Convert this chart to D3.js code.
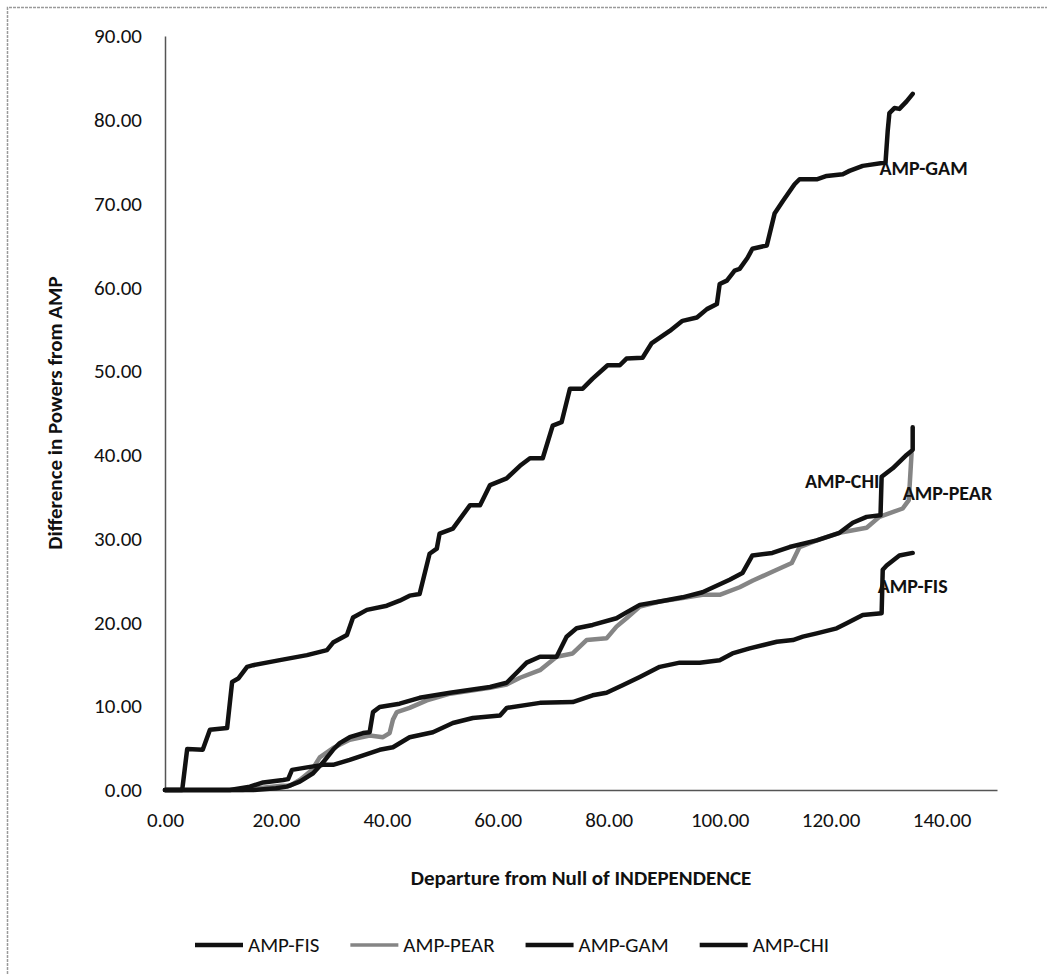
<!DOCTYPE html>
<html>
<head>
<meta charset="utf-8">
<script src="https://cdn.jsdelivr.net/npm/d3@7"></script>
<style>
  body { margin: 0; background: #fff; }
  svg text { font-family: Carlito, Lato, "Open Sans", sans-serif; fill: #111; }
</style>
</head>
<body>
<div id="chart"></div>
<script>
// Power differences vs departure from independence

// series names (legend order)
let seriesNames = ["AMP-FIS", "AMP-PEAR", "AMP-GAM", "AMP-CHI"];

// each series is a list of [departure, difference] points
let fisPts = [[0,0],[11.7,0],[15.3,0.4],[17.7,0.9],[21.3,1.2],[22.2,1.3],[22.9,2.4],[25.6,2.7],
  [28.5,3.0],[30.3,3.0],[33.3,3.6],[38.7,4.8],[41.1,5.1],[44.1,6.3],[48.3,6.9],[51.9,8.0],
  [55.5,8.6],[60.4,8.9],[61.6,9.8],[67.6,10.4],[73.5,10.5],[77.1,11.3],[79.6,11.6],[82.5,12.5],
  [85.6,13.5],[89.2,14.7],[92.8,15.2],[96.4,15.2],[100,15.5],[102.3,16.3],[105.4,16.9],
  [110.3,17.7],[113.2,17.9],[115,18.3],[117.5,18.7],[121.1,19.3],[122.9,19.9],[125.8,20.9],
  [129.2,21.1],[129.4,26.3],[130.1,26.8],[132.4,28.0],[134.8,28.3]];

let pearPts = [[0,0],[14,0],[18,0.3],[21,0.5],[22.5,0.5],[24.3,1.2],[26.5,2.4],[27.9,3.9],
  [30.3,5.0],[33.3,6.0],[36.9,6.5],[39.3,6.3],[40.5,6.8],[41.1,8.4],[41.8,9.3],[44.1,9.8],
  [47.2,10.7],[51.4,11.5],[58.6,12.2],[61.6,12.6],[64,13.4],[67.6,14.3],[70.6,15.9],[73.5,16.3],
  [76,17.9],[79.6,18.1],[81.4,19.5],[83.2,20.5],[85.6,21.9],[89.2,22.5],[93.3,22.9],[96.9,23.3],
  [100,23.3],[103.6,24.2],[106,25.0],[110,26.2],[113,27.1],[114.4,29.0],[117.5,29.8],
  [121.6,30.7],[126.5,31.3],[128.8,32.6],[133,33.6],[134.1,34.6],[134.6,40.2]];

let gamPts = [[0,0],[3.1,0],[4.0,4.9],[6.8,4.8],[8.1,7.2],[11.2,7.4],[12.1,12.9],[13.2,13.3],
  [14.8,14.7],[15.9,14.9],[20.7,15.5],[25.6,16.1],[29.2,16.7],[30.3,17.6],[32.8,18.5],
  [33.9,20.6],[36.4,21.5],[40.0,22.0],[42.3,22.6],[44.1,23.2],[45.9,23.4],[47.7,28.2],
  [49.0,28.8],[49.5,30.6],[51.9,31.2],[55.0,34.0],[56.8,34.0],[58.6,36.4],[61.6,37.2],
  [64.0,38.7],[65.8,39.6],[68.1,39.6],[69.9,43.5],[71.5,43.9],[73.0,47.9],[75.3,47.9],
  [77.1,49.1],[79.8,50.7],[82.0,50.7],[83.2,51.5],[86.1,51.6],[87.7,53.3],[91.0,54.8],
  [93.3,56.0],[95.9,56.4],[97.7,57.4],[99.5,58.0],[100.0,60.4],[101.3,60.8],[102.7,62.0],
  [103.6,62.2],[105.0,63.5],[105.9,64.6],[108.5,65.0],[109.9,68.8],[111.4,70.3],[113.5,72.3],
  [114.4,72.9],[117.5,72.9],[119.3,73.3],[122.2,73.5],[123.4,73.9],[125.8,74.5],[129.9,74.9],
  [130.3,78.7],[130.6,80.8],[131.5,81.4],[132.4,81.3],[133.7,82.2],[134.8,83.1]];

let chiPts = [[0,0],[16,0],[20,0.2],[22,0.4],[24.3,1.0],[26.7,2.0],[28.5,3.3],[30.3,4.8],
  [31.5,5.6],[33.3,6.3],[35.7,6.8],[36.9,6.9],[37.5,9.3],[38.7,9.9],[42.3,10.3],[45.9,11.0],
  [51.4,11.6],[58.6,12.3],[61.6,12.8],[63.4,14.0],[65.2,15.2],[67.6,15.9],[70.6,15.9],
  [72.4,18.3],[74.2,19.3],[77.1,19.7],[81.4,20.5],[83.2,21.2],[85.6,22.1],[89.2,22.5],
  [93.3,23.0],[96.9,23.6],[101.8,25.1],[104.1,25.9],[105.9,28.0],[109.5,28.3],[112.6,29.0],
  [117.5,29.8],[121.6,30.7],[124,31.9],[126.5,32.6],[129,32.8],[129.2,37.4],[131.2,38.4],
  [133.7,40.0],[134.8,40.6],[134.8,43.3]];

// tick values
let xTicks = [0, 20, 40, 60, 80, 100, 120, 140];
let yTicks = [0, 10, 20, 30, 40, 50, 60, 70, 80, 90];

// in-plot series labels, anchored at [departure, difference]
let labelNames = ["AMP-GAM", "AMP-CHI", "AMP-PEAR", "AMP-FIS"];
let labelAt = [[128.8, 73.4], [128.8, 36.0], [133.0, 34.6], [128.5, 23.5]];

////////////////////////////////////////////////////////////////////////
// layout

let width = 1051, height = 978;
let margin = {top: 36, right: 54, bottom: 188, left: 165};
let w = width - margin.left - margin.right,
    h = height - margin.top - margin.bottom;

let colors = {"AMP-FIS": "#111", "AMP-PEAR": "#858585", "AMP-GAM": "#111", "AMP-CHI": "#111"};
let seriesData = {"AMP-FIS": fisPts, "AMP-PEAR": pearPts, "AMP-GAM": gamPts, "AMP-CHI": chiPts};

let svg = d3.select("#chart").append("svg")
  .attr("width", width)
  .attr("height", height);

// scanned frame (only top and left edges show)
svg.append("path")
  .attr("d", "M7.5," + (height - 4) + " V7.5 H" + (width - 4))
  .attr("fill", "none")
  .attr("stroke", "#9a9a9a")
  .attr("stroke-width", 1.5)
  .attr("stroke-dasharray", "3,1");

let g = svg.append("g")
  .attr("transform", "translate(" + margin.left + "," + margin.top + ")");

let xScale = d3.scaleLinear().domain([0, 150]).range([0, w]);
let yScale = d3.scaleLinear().domain([0, 90]).range([h, 0]);

// axes, no tick marks, labels with two decimals
let xAxis = g.append("g")
  .attr("transform", "translate(0," + h + ")")
  .call(d3.axisBottom(xScale).tickValues(xTicks).tickSize(0).tickPadding(22)
        .tickFormat(d3.format(".2f")));
let yAxis = g.append("g")
  .call(d3.axisLeft(yScale).tickValues(yTicks).tickSize(0).tickPadding(23)
        .tickFormat(d3.format(".2f")));

[xAxis, yAxis].forEach(function(a) {
  a.select(".domain").attr("stroke", "#555").attr("stroke-width", 1.5);
  a.selectAll("text").style("font-size", "21px").attr("fill", "#111");
});

// axis titles
g.append("text")
  .attr("x", w / 2)
  .attr("y", h + 95)
  .attr("text-anchor", "middle")
  .style("font-size", "21px")
  .style("font-weight", "bold")
  .text("Departure from Null of INDEPENDENCE");

g.append("text")
  .attr("transform", "translate(" + (55 - margin.left + 7) + "," + (h / 2) + ") rotate(-90)")
  .attr("text-anchor", "middle")
  .style("font-size", "21px")
  .style("font-weight", "bold")
  .text("Difference in Powers from AMP");

// lines
let line = d3.line()
  .x((d) => xScale(d[0]))
  .y((d) => yScale(d[1]));

// draw pear first so the black lines sit on top of it where they overlap
["AMP-PEAR", "AMP-FIS", "AMP-GAM", "AMP-CHI"].forEach(function(name) {
  g.append("path")
    .datum(seriesData[name])
    .attr("d", line)
    .attr("fill", "none")
    .attr("stroke", colors[name])
    .attr("stroke-width", 4.5)
    .attr("stroke-linejoin", "round")
    .attr("stroke-linecap", "round");
});

// labels next to line ends
labelNames.forEach(function(name, i) {
  g.append("text")
    .attr("x", xScale(labelAt[i][0]))
    .attr("y", yScale(labelAt[i][1]))
    .attr("text-anchor", name == "AMP-CHI" ? "end" : "start")
    .style("font-size", "20px")
    .style("font-weight", "bold")
    .text(name);
});

// legend along the bottom
let legend = svg.append("g").attr("transform", "translate(0,945)");
let lx = 195;
seriesNames.forEach(function(name) {
  legend.append("line")
    .attr("x1", lx).attr("x2", lx + 48)
    .attr("y1", 0).attr("y2", 0)
    .attr("stroke", colors[name])
    .attr("stroke-width", name == "AMP-PEAR" ? 3.5 : 4.5);
  let t = legend.append("text")
    .attr("x", lx + 53)
    .attr("y", 7)
    .style("font-size", "21px")
    .text(name);
  lx = lx + 53 + t.node().getComputedTextLength() + 31;
});
</script>
</body>
</html>
